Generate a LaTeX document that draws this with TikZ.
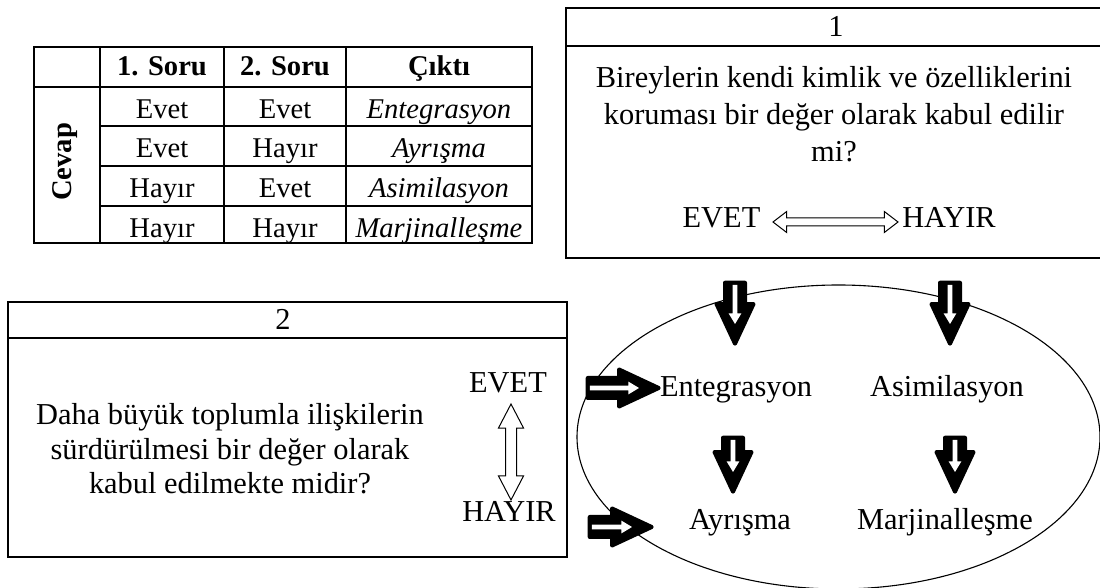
\documentclass[tikz,border=0pt]{standalone}
\usepackage{fontspec}
\setmainfont{Liberation Serif}
\usetikzlibrary{shapes.arrows,shapes.geometric,calc}

\begin{document}
\begin{tikzpicture}[x=0.5pt, y=-0.5pt]
    % Define styles
    \tikzstyle{txt} = [font=\fontsize{15.2}{18}\selectfont, inner sep=0pt, anchor=base]
    \tikzstyle{cell} = [font=\fontsize{14.3}{17}\selectfont, inner sep=0pt, anchor=base]
    \tikzstyle{headcell} = [cell, font=\fontsize{14.3}{17}\selectfont\bfseries]
    \tikzstyle{panel} = [rectangle, draw, line width=0.9pt, inner sep=0pt]
    \tikzstyle{bigarrow} = [single arrow, draw, fill, line width=2pt, line join=round, inner sep=4pt, single arrow head extend=4.25pt, single arrow tip angle=50]
    \tikzstyle{slit} = [single arrow, fill=white, inner sep=1pt, single arrow head extend=2pt, single arrow tip angle=62]
    \tikzstyle{twoway} = [double arrow, draw, line width=0.5pt, fill=white, inner sep=1.75pt, double arrow head extend=3.25pt, double arrow tip angle=75]

    \useasboundingbox (0,0) rectangle (1100,588);

    % Table
    \draw[line width=0.9pt] (34,47) rectangle (532,243);
    \foreach \x in {100,224,346} \draw[line width=0.9pt] (\x,47) -- (\x,243);
    \draw[line width=0.9pt] (34,87) -- (532,87);
    \foreach \y in {126,166,206} \draw[line width=0.9pt] (100,\y) -- (532,\y);
    \node[headcell] (h1) at (162,76) {1. Soru};
    \node[headcell] (h2) at (285,76) {2. Soru};
    \node[headcell] (h3) at (439,76) {Çıktı};
    \node[headcell, anchor=center, rotate=90] (cevap) at (65,162) {Cevap};
    \foreach \a/\b/\c [count=\i, evaluate=\i as \y using 78.5+39.7*\i] in {Evet/Evet/Entegrasyon, Evet/Hayır/Ayrışma, Hayır/Evet/Asimilasyon, Hayır/Hayır/Marjinalleşme} {
        \node[cell] (a\i) at (162,\y) {\a};
        \node[cell] (b\i) at (285,\y) {\b};
        \node[cell, font=\fontsize{14.3}{17}\selectfont\itshape] (c\i) at (439,\y) {\c};
    }

    % Question 1
    \node[panel, minimum width=268.5pt, minimum height=125pt] (q1) at (834.5,133) {};
    \draw[line width=0.9pt] ([yshift=-19.5pt]q1.north west) -- ([yshift=-19.5pt]q1.north east);
    \node[txt] (n1) at (836,37) {1};
    \node[txt] (t1a) at (834,88) {Bireylerin kendi kimlik ve özelliklerini};
    \node[txt] (t1b) at (834,125) {koruması bir değer olarak kabul edilir};
    \node[txt] (t1c) at (834,162) {mi?};
    \node[txt] (evet1) at (721.5,228) {EVET};
    \node[txt] (hayir1) at (949,228) {HAYIR};
    \node[twoway, minimum height=62.5pt] (ew1) at (835.5,222) {};

    % Question 2
    \node[panel, minimum width=279.5pt, minimum height=127.5pt] (q2) at (287.5,429.5) {};
    \draw[line width=0.9pt] ([yshift=-18.5pt]q2.north west) -- ([yshift=-18.5pt]q2.north east);
    \node[txt] (n2) at (283,330) {2};
    \node[txt] (t2a) at (230,425) {Daha büyük toplumla ilişkilerin};
    \node[txt] (t2b) at (230,460) {sürdürülmesi bir değer olarak};
    \node[txt] (t2c) at (230,494) {kabul edilmekte midir?};
    \node[txt] (evet2) at (508,393) {EVET};
    \node[txt] (hayir2) at (509,522) {HAYIR};
    \node[twoway, minimum height=48pt, inner sep=2.5pt, double arrow head extend=3.5pt, double arrow tip angle=55, shape border rotate=90] (ew2) at (511,452) {};

    % Outcomes
    \node[ellipse, draw, line width=0.55pt, minimum width=261.5pt, minimum height=152pt, inner sep=0pt] (modes) at (838.5,437) {};
    \node[txt] (ent) at (736,397) {Entegrasyon};
    \node[txt] (asm) at (947,397) {Asimilasyon};
    \node[txt] (ayr) at (740,530) {Ayrışma};
    \node[txt] (mar) at (945,530) {Marjinalleşme};

    % Arrows
    \foreach \n/\x/\y/\len/\rot [evaluate=\len as \slen using \len-11] in {d1/735/302.5/30.5/270, d2/950/302.5/30.5/270, r1/612.5/388/35.5/0, r2/610/527/31/0, d3/733/454/27/270, d4/955/454/27/270} {
        \node[bigarrow, minimum height=\len pt, shape border rotate=\rot] (\n) at (\x,\y) {};
        \node[slit, minimum height=\slen pt, shape border rotate=\rot] at (\n) {};
    }
\end{tikzpicture}
\end{document}
